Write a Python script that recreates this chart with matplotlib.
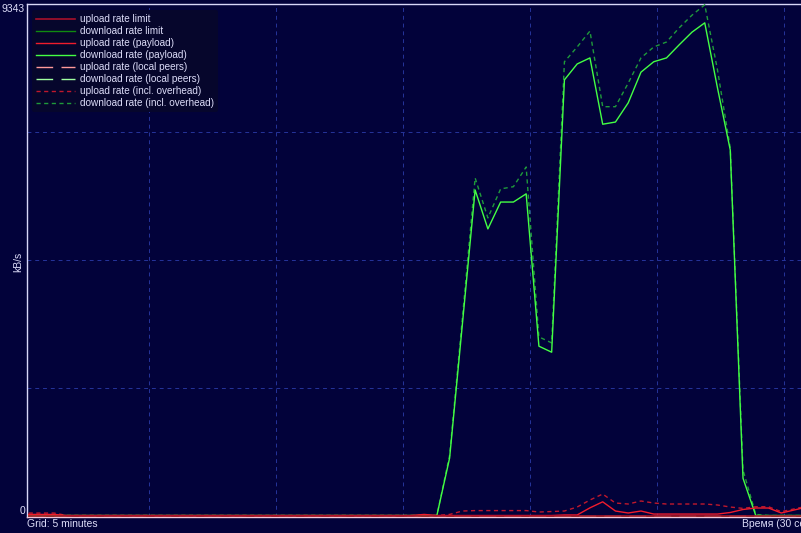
import matplotlib.pyplot as plt

# samples every 30 s, index 0..61 (last one runs off the right edge)
samples = list(range(62))

# kB/s
dl_payload = [0] * 33 + [1050, 3490, 5940, 5230, 5720, 5720, 5870, 3090, 2980,
                         7950, 8240, 8350, 7140, 7180, 7530, 8090, 8280, 8350,
                         8590, 8820, 8990, 7800, 6670, 680] + [0] * 5
dl_overhead = [0] * 33 + [1100, 3600, 6160, 5430, 5960, 6000, 6360, 3260, 3150,
                          8280, 8550, 8840, 7460, 7460, 7890, 8350, 8550, 8640,
                          8900, 9130, 9320, 8130, 6710, 830] + [20] + [0] * 4
ul_payload = [20, 20, 20] + [0] * 28 + [20] + [0] * 10 + [10, 10, 140, 250, 82, 46,
                                                       82, 27, 27, 27, 27, 27, 27, 55,
                                                       110, 137, 137, 46, 100, 155]
ul_overhead = [45, 45, 45] + [0] * 30 + [20, 82, 90, 90, 90, 90, 90, 64, 73, 82, 155,
                                          283, 392, 228, 210, 265, 228, 210, 210, 210,
                                          210, 192, 155, 130, 160, 160, 70, 120, 170]
ul_limit = [0] * 62
dl_limit = [0] * 62
ul_local = [0] * 62
dl_local = [0] * 62

y_max = 9343
bg = '#02023a'
fg = '#dcdcf8'

fig = plt.figure(figsize=(8.01, 5.33), dpi=100, facecolor=bg)
ax = fig.add_axes([27 / 801, 16 / 533, 790 / 801, 513.5 / 533])
ax.set_facecolor(bg)

ax.plot(samples, dl_limit, color='#108a10', lw=1.0, label='download rate limit', zorder=2)
ax.plot(samples, ul_local, color='#ff9a9a', lw=1.0, ls=(0, (12, 6)),
        label='upload rate (local peers)', zorder=2)
ax.plot(samples, dl_local, color='#a0ffa0', lw=1.0, ls=(0, (12, 6)),
        label='download rate (local peers)', zorder=2)
ax.plot(samples, dl_payload, color='#44ff44', lw=1.0, label='download rate (payload)', zorder=4)
ax.plot(samples, dl_overhead, color='#1f9a3a', lw=1.0, ls=(0, (3, 2.5)),
        label='download rate (incl. overhead)', zorder=3)
ax.plot(samples, ul_overhead, color='#c0182c', lw=1.0, ls=(0, (3, 2.5)),
        label='upload rate (incl. overhead)', zorder=3)
ax.plot(samples, ul_payload, color='#f01c2c', lw=1.0, label='upload rate (payload)', zorder=5)
ax.plot(samples, ul_limit, color='#a8102a', lw=1.2, label='upload rate limit', zorder=6)

ax.set_xlim(-0.13, 61.8)
ax.set_ylim(-27, y_max)

grid_x = [9.43 + 9.95 * j for j in range(6)]
for gx in grid_x:
    ax.axvline(gx, color='#26349a', lw=0.7, ls=(0, (4, 4)), zorder=1)
for gy in [0.25, 0.5, 0.75]:
    ax.axhline(y_max * gy, color='#26349a', lw=0.7, ls=(0, (4, 4)), zorder=1)

ax.set_xticks([])
ax.set_yticks([])
for s in ['left', 'top']:
    ax.spines[s].set_color('#d8d8f8')
    ax.spines[s].set_linewidth(1.0)
ax.spines['right'].set_visible(False)
ax.spines['bottom'].set_color('#f4c8dc')
ax.spines['bottom'].set_linewidth(1.0)

h, l = ax.get_legend_handles_labels()
order = ['upload rate limit', 'download rate limit', 'upload rate (payload)',
         'download rate (payload)', 'upload rate (local peers)',
         'download rate (local peers)', 'upload rate (incl. overhead)',
         'download rate (incl. overhead)']
hd = dict(zip(l, h))
leg = ax.legend([hd[k] for k in order], order, loc='upper left',
                bbox_to_anchor=(5 / 790, 1 - 6.5 / 513.5), frameon=True,
                prop={'family': 'Liberation Sans', 'size': 7.2}, labelcolor=fg,
                handlelength=3.9, handletextpad=0.5, labelspacing=0.2,
                borderpad=0.4, borderaxespad=0)
leg.get_frame().set_facecolor('#06062c')
leg.get_frame().set_edgecolor('none')
leg.get_frame().set_alpha(1)
leg.set_zorder(10)

font = {'family': 'Liberation Sans', 'size': 7.5, 'color': fg}
fig.text(25 / 801, 1 - 9 / 533, '9343', ha='right', va='center', **font)
fig.text(25 / 801, 1 - 511 / 533, '0', ha='right', va='center', **font)
fig.text(18 / 801, 1 - 262 / 533, 'kB/s', ha='center', va='center', rotation=90, **font)
fig.text(27 / 801, 1 - 524 / 533, 'Grid: 5 minutes', ha='left', va='center', **font)
fig.text(742 / 801, 1 - 524 / 533, 'Время (30 сек)', ha='left', va='center', **font)

plt.savefig('out.png', dpi=100, facecolor=bg)
